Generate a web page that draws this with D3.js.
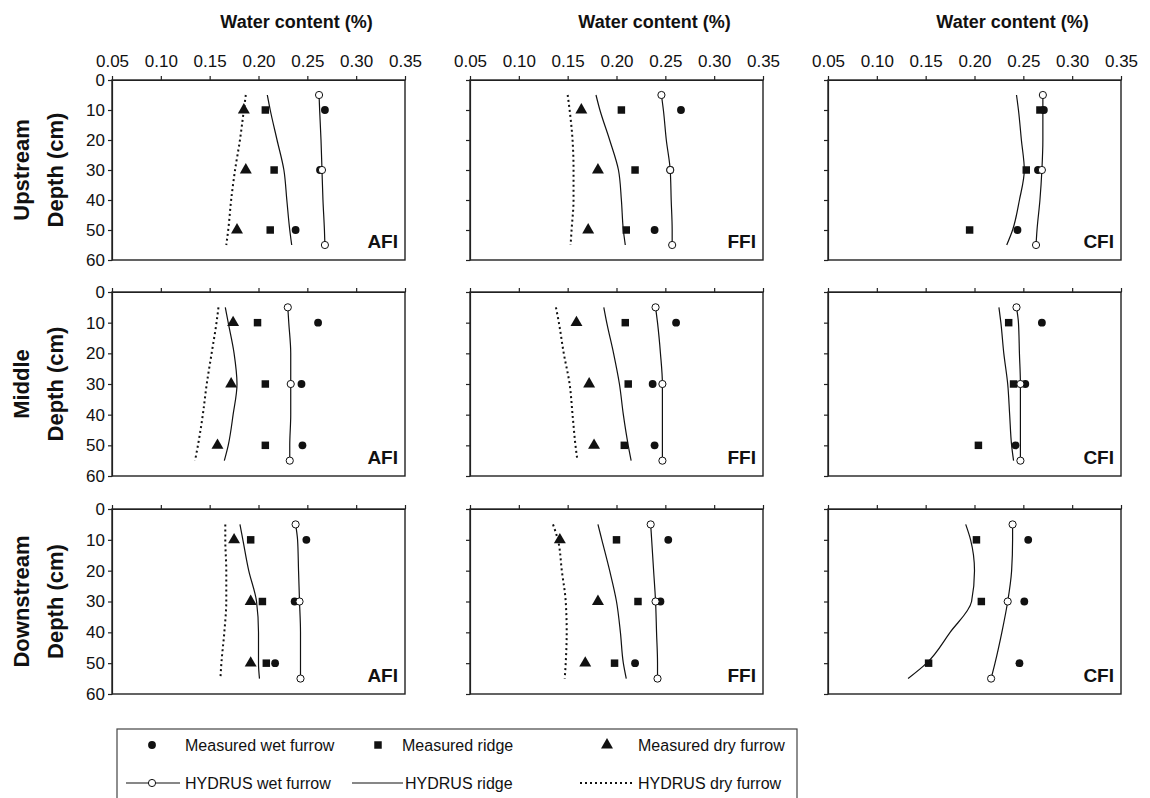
<!DOCTYPE html>
<html><head><meta charset="utf-8">
<script src="https://cdn.jsdelivr.net/npm/d3@7"></script>
<style>body{margin:0;background:#fff} text{font-family:"Liberation Sans",Arial,sans-serif;fill:#111}</style>
</head><body>
<svg id="chart" width="1150" height="798"></svg>
<script>
const rowNames = ["Upstream", "Middle", "Downstream"];
const colNames = ["AFI", "FFI", "CFI"];
const xTicks = [0.05, 0.10, 0.15, 0.20, 0.25, 0.30, 0.35];
const yTicks = [0, 10, 20, 30, 40, 50, 60];
const measuredDepths = [10, 30, 50];
const hydrusDepths = [5, 10, 20, 30, 40, 50, 55];
const wetMarkerDepths = [5, 30, 55];

// measured values at 10, 30, 50 cm  [row][col]
const measuredWet = [
  [[0.268, 0.263, 0.238], [0.266, 0.255, 0.239], [0.271, 0.265, 0.244]],
  [[0.261, 0.244, 0.245], [0.261, 0.237, 0.239], [0.269, 0.252, 0.242]],
  [[0.249, 0.237, 0.217], [0.253, 0.245, 0.219], [0.255, 0.251, 0.246]]
];
const measuredRidge = [
  [[0.207, 0.216, 0.212], [0.205, 0.219, 0.210], [0.267, 0.253, 0.195]],
  [[0.199, 0.207, 0.207], [0.209, 0.212, 0.208], [0.235, 0.240, 0.204]],
  [[0.192, 0.204, 0.208], [0.200, 0.222, 0.198], [0.202, 0.207, 0.153]]
];
const measuredDry = [
  [[0.185, 0.187, 0.178], [0.164, 0.181, 0.171], null],
  [[0.174, 0.172, 0.158], [0.159, 0.172, 0.177], null],
  [[0.175, 0.192, 0.192], [0.142, 0.181, 0.168], null]
];
// HYDRUS simulated at 5,10,20,30,40,50,55 cm
const hydrusWet = [
  [[0.262, 0.2626, 0.264, 0.265, 0.266, 0.2675, 0.268], [0.246, 0.248, 0.251, 0.255, 0.256, 0.257, 0.257], [0.270, 0.270, 0.270, 0.269, 0.267, 0.264, 0.263]],
  [[0.230, 0.231, 0.233, 0.233, 0.233, 0.232, 0.232], [0.240, 0.242, 0.245, 0.247, 0.247, 0.247, 0.247], [0.243, 0.245, 0.246, 0.247, 0.247, 0.247, 0.247]],
  [[0.238, 0.240, 0.241, 0.242, 0.243, 0.243, 0.243], [0.235, 0.236, 0.238, 0.240, 0.241, 0.242, 0.242], [0.239, 0.239, 0.238, 0.234, 0.228, 0.221, 0.217]]
];
const hydrusRidge = [
  [[0.209, 0.212, 0.219, 0.226, 0.229, 0.232, 0.234], [0.179, 0.183, 0.193, 0.202, 0.205, 0.207, 0.209], [0.243, 0.245, 0.248, 0.251, 0.246, 0.239, 0.233]],
  [[0.166, 0.169, 0.175, 0.178, 0.174, 0.169, 0.165], [0.187, 0.190, 0.197, 0.203, 0.207, 0.212, 0.215], [0.225, 0.227, 0.230, 0.234, 0.236, 0.238, 0.240]],
  [[0.181, 0.184, 0.190, 0.198, 0.200, 0.200, 0.201], [0.181, 0.185, 0.193, 0.200, 0.204, 0.207, 0.210], [0.191, 0.196, 0.200, 0.197, 0.175, 0.151, 0.132]]
];
const hydrusDry = [
  [[0.187, 0.185, 0.181, 0.176, 0.172, 0.169, 0.167], [0.150, 0.152, 0.155, 0.156, 0.156, 0.154, 0.153], null],
  [[0.159, 0.157, 0.152, 0.147, 0.143, 0.138, 0.135], [0.138, 0.141, 0.146, 0.152, 0.155, 0.158, 0.160], null],
  [[0.166, 0.166, 0.167, 0.167, 0.165, 0.162, 0.161], [0.135, 0.140, 0.144, 0.148, 0.149, 0.148, 0.147], null]
];
const legendItems = ["Measured wet furrow", "Measured ridge", "Measured dry furrow",
                     "HYDRUS wet furrow", "HYDRUS ridge", "HYDRUS dry furrow"];

const svg = d3.select("#chart");
const colLeft = [112, 470, 828];
const panelW = 293;
const rowTop = [80, 292, 509];
const rowH = [180, 184, 185];

const symCircle = d3.symbol().type(d3.symbolCircle).size(48);
const symSquare = d3.symbol().type(d3.symbolSquare).size(56);
const symTri = d3.symbol().type(d3.symbolTriangle).size(62);

for (let r = 0; r < 3; r++) {
  for (let c = 0; c < 3; c++) {
    const w = panelW, h = rowH[r];
    const g = svg.append("g").attr("transform", `translate(${colLeft[c]},${rowTop[r]})`);
    const x = d3.scaleLinear().domain([0.05, 0.35]).range([0, w]);
    const y = d3.scaleLinear().domain([0, 60]).range([0, h]);

    const ax = g.append("g").call(d3.axisTop(x).tickValues(xTicks).tickSize(4).tickSizeOuter(0).tickPadding(9)
      .tickFormat(r === 0 ? d3.format(".2f") : () => ""));
    const ay = g.append("g").call(d3.axisLeft(y).tickValues(yTicks).tickSize(4).tickSizeOuter(0).tickPadding(3)
      .tickFormat(c === 0 ? d3.format("d") : () => ""));
    [ax, ay].forEach(a => {
      a.selectAll("text").style("font-size", "17px").attr("fill", "#111");
      a.selectAll("line,path").attr("stroke", "#222").attr("stroke-width", 1.2);
    });
    g.append("rect").attr("width", w).attr("height", h).attr("fill", "none")
      .attr("stroke", "#222").attr("stroke-width", 1.4);

    const line = d3.line().x(d => x(d[1])).y(d => y(d[0])).curve(d3.curveMonotoneY);
    const pts = arr => hydrusDepths.map((d, i) => [d, arr[i]]);

    // HYDRUS lines
    if (hydrusDry[r][c]) {
      g.append("path").attr("d", line(pts(hydrusDry[r][c]))).attr("fill", "none")
        .attr("stroke", "#111").attr("stroke-width", 2).attr("stroke-dasharray", "2,3");
    }
    g.append("path").attr("d", line(pts(hydrusRidge[r][c]))).attr("fill", "none")
      .attr("stroke", "#111").attr("stroke-width", 1.2);
    g.append("path").attr("d", line(pts(hydrusWet[r][c]))).attr("fill", "none")
      .attr("stroke", "#111").attr("stroke-width", 1.2);

    // measured
    const drawMeas = (arr, sym) => {
      if (!arr) return;
      g.selectAll(null).data(measuredDepths.map((d, i) => [d, arr[i]])).enter().append("path")
        .attr("d", sym).attr("transform", d => `translate(${x(d[1])},${y(d[0])})`).attr("fill", "#111");
    };
    drawMeas(measuredDry[r][c], symTri);
    drawMeas(measuredRidge[r][c], symSquare);
    drawMeas(measuredWet[r][c], symCircle);

    // wet-furrow HYDRUS markers
    const wetVals = hydrusWet[r][c];
    g.selectAll(null).data(wetMarkerDepths.map(d => [d, wetVals[hydrusDepths.indexOf(d)]])).enter()
      .append("circle").attr("cx", d => x(d[1])).attr("cy", d => y(d[0])).attr("r", 3.6)
      .attr("fill", "#fff").attr("stroke", "#111").attr("stroke-width", 1);

    g.append("text").attr("x", w - 7).attr("y", h - 12).attr("text-anchor", "end")
      .style("font-size", "19px").style("font-weight", "bold").text(colNames[c]);

    if (r === 0) {
      svg.append("text").attr("x", colLeft[c] + w / 2 + 38).attr("y", 28).attr("text-anchor", "middle")
        .style("font-size", "18px").style("font-weight", "bold").text("Water content (%)");
    }
    if (c === 0) {
      const cy = rowTop[r] + h / 2;
      svg.append("text").attr("transform", `translate(29,${cy}) rotate(-90)`).attr("text-anchor", "middle")
        .style("font-size", "22px").style("font-weight", "bold").text(rowNames[r]);
      svg.append("text").attr("transform", `translate(63,${cy}) rotate(-90)`).attr("text-anchor", "middle")
        .style("font-size", "22px").style("font-weight", "bold").text("Depth (cm)");
    }
  }
}

// legend
const lg = svg.append("g");
lg.append("rect").attr("x", 117).attr("y", 729).attr("width", 680).attr("height", 90)
  .attr("fill", "none").attr("stroke", "#444").attr("stroke-width", 1.2);
const r1 = 745, r2 = 783;
const legText = (xx, yy, t) => lg.append("text").attr("x", xx).attr("y", yy + 5.5).style("font-size", "16px").text(t);
lg.append("path").attr("d", symCircle).attr("transform", `translate(152,${r1})`).attr("fill", "#111");
legText(185, r1, legendItems[0]);
lg.append("path").attr("d", symSquare).attr("transform", `translate(378,${r1})`).attr("fill", "#111");
legText(402, r1, legendItems[1]);
lg.append("path").attr("d", symTri).attr("transform", `translate(607,${r1})`).attr("fill", "#111");
legText(638, r1, legendItems[2]);
lg.append("line").attr("x1", 126).attr("x2", 180).attr("y1", r2).attr("y2", r2).attr("stroke", "#111").attr("stroke-width", 1.2);
lg.append("circle").attr("cx", 152).attr("cy", r2).attr("r", 3.6).attr("fill", "#fff").attr("stroke", "#111");
legText(185, r2, legendItems[3]);
lg.append("line").attr("x1", 352).attr("x2", 403).attr("y1", r2).attr("y2", r2).attr("stroke", "#111").attr("stroke-width", 1.2);
legText(405, r2, legendItems[4]);
lg.append("line").attr("x1", 580).attr("x2", 633).attr("y1", r2).attr("y2", r2).attr("stroke", "#111")
  .attr("stroke-width", 2).attr("stroke-dasharray", "2,3");
legText(638, r2, legendItems[5]);
</script>
</body></html>
